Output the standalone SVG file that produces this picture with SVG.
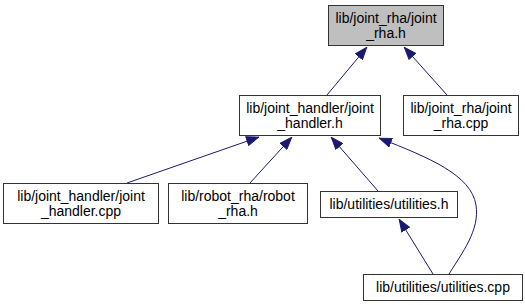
<svg xmlns="http://www.w3.org/2000/svg" width="525" height="305" viewBox="0 0 525 305">
  <style>
    .box { fill: #ffffff; stroke: #333333; stroke-width: 1; }
    .cur { fill: #bfbfbf; }
    .lbl { font-family: "Liberation Sans", Arial, sans-serif; font-size: 14px; fill: #000000; text-anchor: middle; }
    .edge { fill: none; stroke: #191970; stroke-width: 1; marker-end: url(#arrow); }
  </style>
  <defs>
    <marker id="arrow" markerUnits="userSpaceOnUse" markerWidth="13" markerHeight="10" refX="13" refY="5" orient="auto">
      <path d="M0.5,0.5 L12.5,5 L0.5,9.5 z" fill="#191970" stroke="#191970" stroke-width="1"/>
    </marker>
  </defs>

  <g id="edges">
    <path class="edge" d="M327,95 L367,47"/>
    <path class="edge" d="M447,95 L404,47"/>
    <path class="edge" d="M127,183 L259,137"/>
    <path class="edge" d="M250,183 L292,137"/>
    <path class="edge" d="M378,191 L331,137"/>
    <path class="edge" d="M449,274 C462,253 480,230 476,205 C471,175 430,158 379,138"/>
    <path class="edge" d="M433,274 L399,219"/>
  </g>

  <g id="joint_rha_h">
    <rect class="box cur" x="328.5" y="5.5" width="115" height="40"/>
    <text class="lbl" x="386" y="23">lib/joint_rha/joint</text>
    <text class="lbl" x="386" y="38">_rha.h</text>
  </g>
  <g id="joint_handler_h">
    <rect class="box" x="239.5" y="95.5" width="141" height="40"/>
    <text class="lbl" x="310" y="113">lib/joint_handler/joint</text>
    <text class="lbl" x="310" y="128">_handler.h</text>
  </g>
  <g id="joint_rha_cpp">
    <rect class="box" x="403.5" y="95.5" width="115" height="40"/>
    <text class="lbl" x="461" y="113">lib/joint_rha/joint</text>
    <text class="lbl" x="461" y="128">_rha.cpp</text>
  </g>
  <g id="joint_handler_cpp">
    <rect class="box" x="3.5" y="183.5" width="155" height="40"/>
    <text class="lbl" x="81" y="201">lib/joint_handler/joint</text>
    <text class="lbl" x="81" y="216">_handler.cpp</text>
  </g>
  <g id="robot_rha_h">
    <rect class="box" x="168.5" y="183.5" width="139" height="40"/>
    <text class="lbl" x="238" y="201">lib/robot_rha/robot</text>
    <text class="lbl" x="238" y="216">_rha.h</text>
  </g>
  <g id="utilities_h">
    <rect class="box" x="320.5" y="191.5" width="137" height="26"/>
    <text class="lbl" x="389" y="209">lib/utilities/utilities.h</text>
  </g>
  <g id="utilities_cpp">
    <rect class="box" x="363.5" y="274.5" width="159" height="26"/>
    <text class="lbl" x="443" y="292">lib/utilities/utilities.cpp</text>
  </g>
</svg>
